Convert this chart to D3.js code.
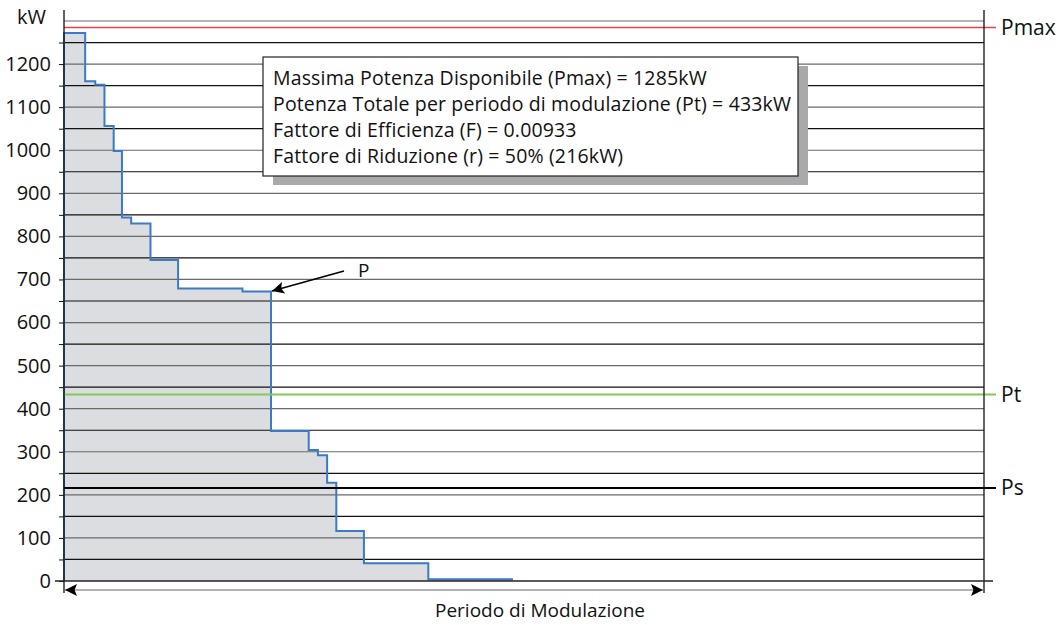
<!DOCTYPE html>
<html>
<head>
<meta charset="utf-8">
<script src="https://cdn.jsdelivr.net/npm/d3@7"></script>
<style>
body{margin:0;background:#fff;}
text{font-family:"Open Sans",sans-serif;fill:#111;}
</style>
</head>
<body>
<script>
//step levels (kW) and the time at which each step ends (arbitrary units)
var stepLevels=[1272,1160,1152,1056,998,844,830,745,679,672,348,304,292,228,116,41,4];
var stepEnds=[2.3,3.4,4.4,5.4,6.3,7.3,9.4,12.4,19.4,22.5,26.6,27.6,28.6,29.6,32.6,39.6,48.8];
var yTicks=[0,100,200,300,400,500,600,700,800,900,1000,1100,1200];
var gridValues=d3.range(0,1301,50);
var refLines=[{name:"Pmax",value:1285,color:"#e8424b",w:1.6},
	{name:"Pt",value:433,color:"#80c95a",w:2},
	{name:"Ps",value:216,color:"#000",w:2}];
var infoLines=["Massima Potenza Disponibile (Pmax) = 1285kW",
	"Potenza Totale per periodo di modulazione (Pt) = 433kW",
	"Fattore di Efficienza (F) = 0.00933",
	"Fattore di Riduzione (r) = 50% (216kW)"];

window.onload=draw();

function draw(){
	var width=1063,height=625;
	var left=64,right=984,top=21,bottom=581;

	var svg=d3.select("body").append("svg")
		.attr("width",width)
		.attr("height",height);

	var x=d3.scaleLinear().domain([0,100]).range([left,right]);
	var y=d3.scaleLinear().domain([0,1300]).range([bottom,top]);

	//build step data
	var pts=[];
	stepLevels.forEach(function(v,i){
		var start=i==0?0:stepEnds[i-1];
		pts.push([start,v]);
		pts.push([stepEnds[i],v]);
	});
	var area=d3.area()
		.x(function(d){return x(d[0]);})
		.y0(y(0))
		.y1(function(d){return y(d[1]);});
	var line=d3.line()
		.x(function(d){return x(d[0]);})
		.y(function(d){return y(d[1]);});

	svg.append("path")
		.datum(pts)
		.attr("d",area)
		.attr("fill","#dcdde0");

	//grid lines over the fill
	svg.selectAll(".grid")
		.data(gridValues.filter(function(d){return d>0;}))
		.enter()
		.append("line")
		.attr("x1",left).attr("x2",right)
		.attr("y1",function(d){return y(d);})
		.attr("y2",function(d){return y(d);})
		.attr("stroke",function(d){return d%100==0?"#6a6a6a":"#111";})
		.attr("stroke-width",1.2);

	svg.append("path")
		.datum([[0,0]].concat(pts))
		.attr("d",line)
		.attr("fill","none")
		.attr("stroke","#3a7bc4")
		.attr("stroke-width",2);

	//reference lines
	refLines.forEach(function(r){
		svg.append("line")
			.attr("x1",left).attr("x2",996)
			.attr("y1",y(r.value)).attr("y2",y(r.value))
			.attr("stroke",r.color)
			.attr("stroke-width",r.w);
		svg.append("text")
			.attr("x",1001)
			.attr("y",y(r.value))
			.attr("dy","0.35em")
			.style("font-size","21px")
			.text(r.name);
	});

	//axes
	var yAxis=d3.axisLeft(y)
		.tickValues(gridValues)
		.tickSize(5)
		.tickFormat(function(d){return yTicks.indexOf(d)>=0?d:(d==1300?"kW":"");});
	var gy=svg.append("g")
		.attr("transform","translate("+left+",0)")
		.call(yAxis);
	gy.select(".domain").remove();
	gy.selectAll(".tick line").attr("stroke","#111");
	gy.selectAll(".tick text")
		.attr("x",-13)
		.style("font-size","20px")
		.style("font-family","'Open Sans',sans-serif")
		.attr("fill","#111");
	gy.selectAll(".tick").filter(function(d){return d==1300;}).select("line").remove();
	gy.selectAll(".tick").filter(function(d){return d==1300;}).select("text")
		.attr("x",-18).attr("dy","0.1em");

	svg.append("line").attr("x1",left).attr("x2",left).attr("y1",10).attr("y2",593)
		.attr("stroke","#111").attr("stroke-width",1.3);
	svg.append("line").attr("x1",right).attr("x2",right).attr("y1",10).attr("y2",593)
		.attr("stroke","#111").attr("stroke-width",1.3);
	svg.append("line").attr("x1",55).attr("x2",993).attr("y1",y(0)).attr("y2",y(0))
		.attr("stroke","#222").attr("stroke-width",1.3);

	//period arrow
	var defs=svg.append("defs");
	defs.append("marker").attr("id","tri")
		.attr("viewBox","0 0 10 10").attr("refX",10).attr("refY",5)
		.attr("markerWidth",16).attr("markerHeight",12)
		.attr("markerUnits","userSpaceOnUse")
		.attr("orient","auto-start-reverse")
		.append("path").attr("d","M0,0L10,5L0,10L2,5Z").attr("fill","#000");
	svg.append("line").attr("x1",left+1).attr("x2",right-1).attr("y1",590).attr("y2",590)
		.attr("stroke","#666").attr("stroke-width",1.2)
		.attr("marker-start","url(#tri)").attr("marker-end","url(#tri)");
	svg.append("text")
		.attr("x",540).attr("y",617)
		.attr("text-anchor","middle")
		.style("font-size","19px")
		.text("Periodo di Modulazione");

	//P pointer
	svg.append("line").attr("x1",344).attr("y1",271).attr("x2",272).attr("y2",291)
		.attr("stroke","#000").attr("stroke-width",1.5)
		.attr("marker-end","url(#tri)");
	svg.append("text").attr("x",358).attr("y",277).style("font-size","19px").text("P");

	//info box
	svg.append("rect").attr("x",273).attr("y",66).attr("width",535).attr("height",119)
		.attr("fill","#a9a9ab");
	svg.append("rect").attr("x",263).attr("y",57).attr("width",535).attr("height",119)
		.attr("fill","#fff").attr("stroke","#222").attr("stroke-width",1.2);
	svg.selectAll(".info")
		.data(infoLines)
		.enter()
		.append("text")
		.attr("x",273)
		.attr("y",function(d,i){return 78+i*26;})
		.attr("dy","0.35em")
		.style("font-size","19.5px")
		.style("letter-spacing","0.15px")
		.text(function(d){return d;});
}
</script>
</body>
</html>
